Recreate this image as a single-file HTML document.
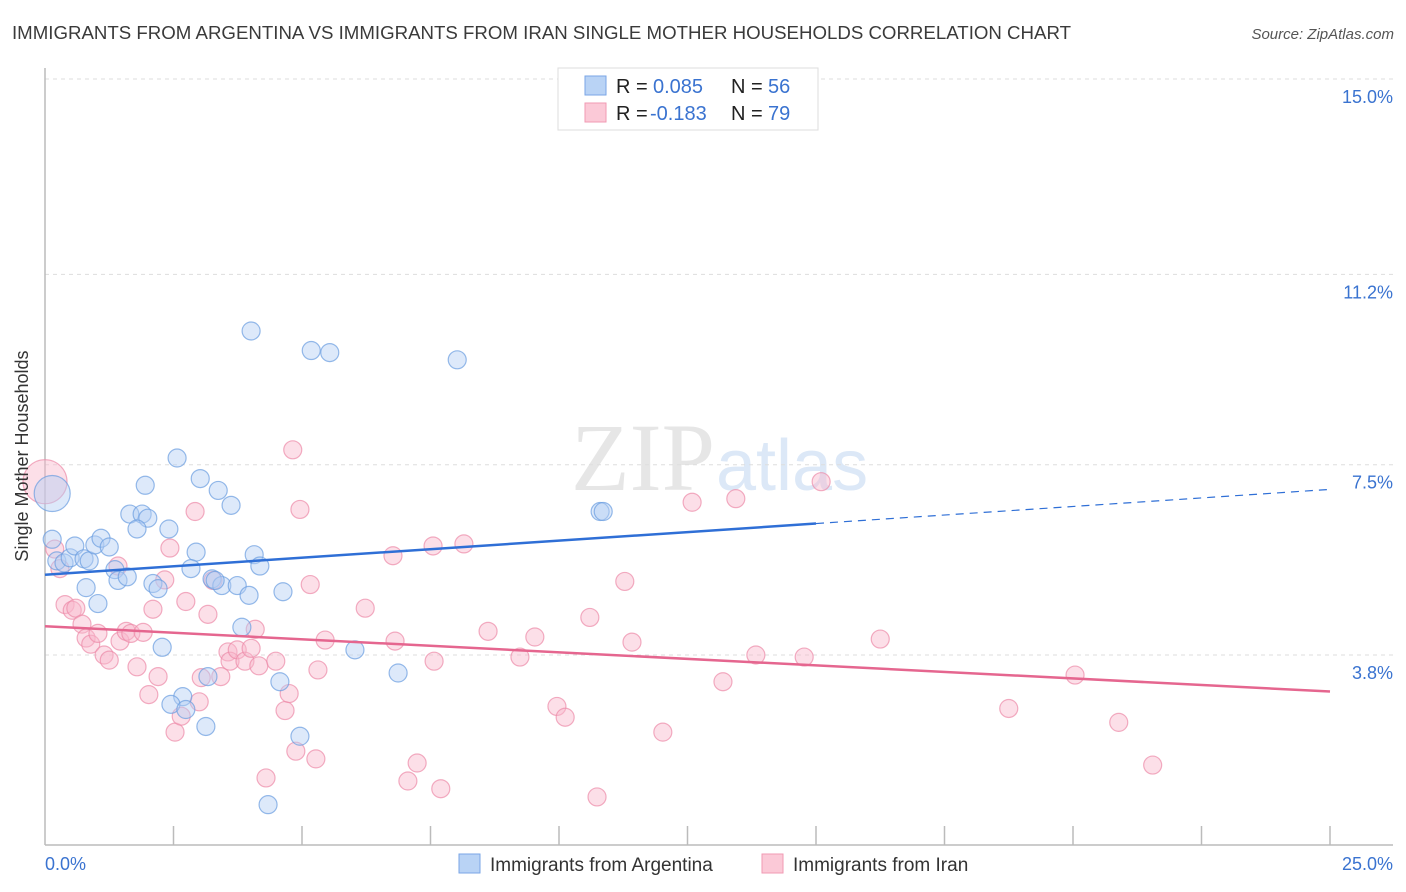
<!DOCTYPE html>
<html><head><meta charset="utf-8">
<style>
body{margin:0;background:#fff;font-family:"Liberation Sans",sans-serif;}
#wrap{position:relative;width:1406px;height:892px;overflow:hidden;}
</style></head>
<body>
<div id="wrap">
<svg id="chart" width="1406" height="892" xmlns="http://www.w3.org/2000/svg">
<text x="12" y="39" font-size="18" fill="#3a3a3a" textLength="1059" lengthAdjust="spacingAndGlyphs">IMMIGRANTS FROM ARGENTINA VS IMMIGRANTS FROM IRAN SINGLE MOTHER HOUSEHOLDS CORRELATION CHART</text>
<text x="1394" y="39" font-size="15" fill="#555" font-style="italic" text-anchor="end">Source: ZipAtlas.com</text>
<text x="715" y="490" font-size="96" fill="#e6e6e6" text-anchor="end" font-family="Liberation Serif,serif">ZIP</text>
<text x="716" y="490" font-size="72" fill="#dce8f7">atlas</text>
<g id="grid"></g>
<g id="axes"></g>
<g id="pts"></g>
<g id="trend"></g>
<text x="28" y="456" font-size="18" fill="#333" text-anchor="middle" transform="rotate(-90 28 456)">Single Mother Households</text>
<g>
<rect x="558" y="68" width="260" height="62" fill="#fff" stroke="#ddd"/>
<rect x="585" y="76" width="21" height="19" fill="#b9d3f5" stroke="#7aa6e6"/>
<rect x="585" y="103" width="21" height="19" fill="#fbc9d7" stroke="#f09ab3"/>
<text x="616" y="93" font-size="20" fill="#222">R =</text>
<text x="653" y="93" font-size="20" fill="#3a73d0">0.085</text>
<text x="731" y="93" font-size="20" fill="#222">N =</text>
<text x="768" y="93" font-size="20" fill="#3a73d0">56</text>
<text x="616" y="120" font-size="20" fill="#222">R =</text>
<text x="650" y="120" font-size="20" fill="#3a73d0">-0.183</text>
<text x="731" y="120" font-size="20" fill="#222">N =</text>
<text x="768" y="120" font-size="20" fill="#3a73d0">79</text>
</g>
<g>
<rect x="459" y="854" width="21" height="19" fill="#b9d3f5" stroke="#7aa6e6"/>
<text x="490" y="871" font-size="19" fill="#333">Immigrants from Argentina</text>
<rect x="762" y="854" width="21" height="19" fill="#fbc9d7" stroke="#f09ab3"/>
<text x="793" y="871" font-size="19" fill="#333">Immigrants from Iran</text>
</g>
</svg>
</div>
<script>
const yTicks=[3.8,7.5,11.2,15.0];
const yTickLabels=["3.8%","7.5%","11.2%","15.0%"];
const xTickCount=10;
const xLabels=["0.0%","25.0%"];
const blueX=[0.14,0.14,0.23,0.37,0.49,0.58,0.76,0.86,0.97,1.09,1.25,0.80,1.03,1.36,1.42,1.60,1.65,1.89,2.00,1.79,1.95,2.41,2.57,2.94,2.84,3.02,3.25,3.37,3.44,3.62,3.74,3.97,4.07,4.18,3.83,4.63,2.28,6.03,6.87,4.57,3.17,2.68,2.45,2.74,3.13,4.96,4.34,4.01,5.18,5.54,8.02,10.80,10.86,2.10,2.20,3.31];
const blueY=[6.94,6.05,5.63,5.59,5.69,5.92,5.67,5.63,5.94,6.07,5.90,5.11,4.80,5.46,5.25,5.32,6.54,6.54,6.46,6.25,7.10,6.25,7.63,5.80,5.48,7.23,5.28,7.00,5.15,6.71,5.15,4.96,5.75,5.53,4.34,5.03,3.95,3.90,3.45,3.28,3.38,2.99,2.84,2.74,2.41,2.22,0.89,10.10,9.72,9.68,9.54,6.59,6.59,5.19,5.09,5.25];
const pinkX=[0.00,0.19,0.29,0.39,0.53,0.60,0.72,0.80,0.89,1.03,1.15,1.25,1.42,1.46,1.58,1.67,1.79,1.91,2.02,2.10,2.20,2.33,2.43,2.53,2.65,2.74,2.92,3.00,3.04,3.17,3.27,3.42,3.56,3.60,3.74,3.89,4.01,4.09,4.16,4.30,4.49,4.67,4.75,4.82,4.88,4.96,5.16,5.27,5.31,5.45,6.23,6.77,6.81,7.06,7.24,7.57,7.55,7.70,8.15,8.62,9.24,9.53,9.96,10.12,10.60,10.74,11.28,11.42,12.02,12.59,13.19,13.44,13.83,14.77,15.10,16.25,18.75,20.04,20.89,21.55];
const pinkY=[7.17,5.86,5.48,4.78,4.67,4.71,4.40,4.13,4.01,4.22,3.80,3.70,5.53,4.07,4.26,4.22,3.57,4.24,3.03,4.69,3.38,5.26,5.88,2.30,2.61,4.84,6.59,2.89,3.36,4.59,5.25,3.38,3.86,3.68,3.90,3.68,3.93,4.30,3.59,1.41,3.68,2.72,3.05,7.79,1.93,6.63,5.17,1.78,3.51,4.09,4.71,5.73,4.07,1.35,1.70,3.68,5.92,1.20,5.96,4.26,3.76,4.15,2.80,2.59,4.53,1.04,5.23,4.05,2.30,6.77,3.28,6.84,3.80,3.76,7.17,4.11,2.76,3.41,2.49,1.66];
const blueTrend=[5.36,7.02];
const pinkTrend=[4.36,3.09];
const NS="http://www.w3.org/2000/svg";
const X=v=>45+v/25*1285;
const Y=v=>655-(v-3.8)*51.43;
function mk(tag,attrs,parent){const e=document.createElementNS(NS,tag);for(const k in attrs)e.setAttribute(k,attrs[k]);parent.appendChild(e);return e;}
const grid=document.getElementById('grid'),axes=document.getElementById('axes'),pts=document.getElementById('pts'),trend=document.getElementById('trend');
yTicks.forEach((t,i)=>{
  const l=mk('line',{x1:45,x2:1393,y1:Y(t),y2:Y(t),stroke:'#ddd','stroke-dasharray':'4,4'},grid);
  
  
  const tx=mk('text',{x:1393,y:Y(t)+24,'font-size':18,fill:'#3a73d0','text-anchor':'end'},axes);
  tx.textContent=yTickLabels[i];
  
  
});
const ax=mk('line',{x1:45,x2:1393,y1:845,y2:845,stroke:'#bbb','stroke-width':1.5},axes);


const ay=mk('line',{x1:45,x2:45,y1:68,y2:845,stroke:'#bbb','stroke-width':1.5},axes);


for(let i=1;i<=xTickCount;i++){
  const xv=X(25*i/xTickCount);
  const t=mk('line',{x1:xv,x2:xv,y1:826,y2:845,stroke:'#bbb','stroke-width':1.5},axes);
  
  
}
const xl0=mk('text',{x:45,y:870,'font-size':18,fill:'#3a73d0'},axes);xl0.textContent=xLabels[0];


const xl1=mk('text',{x:1393,y:870,'font-size':18,fill:'#3a73d0','text-anchor':'end'},axes);xl1.textContent=xLabels[1];


function drawPts(xs,ys,fill,stroke,name,bigIdx,bigR){
  xs.forEach((x,i)=>{
    const c=mk('circle',{cx:X(x),cy:Y(ys[i]),r:i===bigIdx?bigR:9,fill:fill,'fill-opacity':0.45,stroke:stroke,'stroke-opacity':0.7,'stroke-width':1.2},pts);
    
    
  });
}
drawPts(pinkX,pinkY,'#f8b8cb','#ec8aa8','iran-point',0,22);
drawPts(blueX,blueY,'#b3cff3','#6a9de0','argentina-point',0,18);
const bMid=blueTrend[0]+(blueTrend[1]-blueTrend[0])*15/25;
const b1=mk('line',{x1:X(0),y1:Y(blueTrend[0]),x2:X(15),y2:Y(bMid),stroke:'#2f6fd6','stroke-width':2.5},trend);


const b2=mk('line',{x1:X(15),y1:Y(bMid),x2:X(25),y2:Y(blueTrend[1]),stroke:'#2f6fd6','stroke-width':1.2,'stroke-dasharray':'8,6'},trend);


const p1=mk('line',{x1:X(0),y1:Y(pinkTrend[0]),x2:X(25),y2:Y(pinkTrend[1]),stroke:'#e5668f','stroke-width':2.5},trend);


</script>
</body></html>
